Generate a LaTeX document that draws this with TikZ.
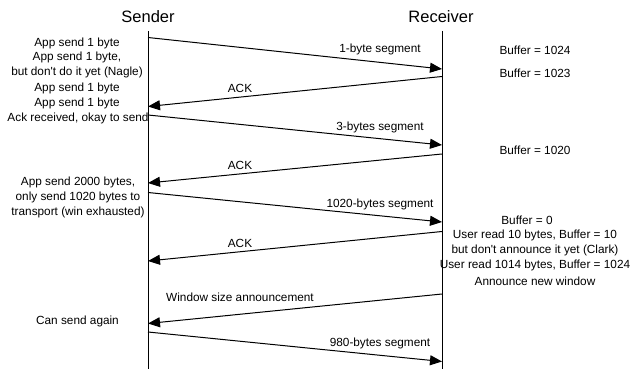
\documentclass[tikz,border=0pt]{standalone}
\usepackage{fontspec}
\setmainfont{Liberation Sans}
\usetikzlibrary{arrows.meta}
\begin{document}
\begin{tikzpicture}[x=1pt,y=-1pt,
  lbl/.style={font=\fontsize{11.8}{14}\selectfont, inner sep=0pt, align=center},
  ttl/.style={font=\fontsize{16.5}{19}\selectfont, inner sep=0pt},
  life/.style={line width=1pt},
  msg/.style={line width=1pt, -{Triangle[length=12pt,width=10pt]}}]
\useasboundingbox (0,0) rectangle (633,369);
% titles
\node[ttl] (sender) at (148,17) {Sender};
\node[ttl] (receiver) at (441,17) {Receiver};
% left notes
\node[lbl] (l1) at (77,43) {App send 1 byte};
\node[lbl] (l2) at (77,57.5) {App send 1 byte,};
\node[lbl] (l3) at (77,72.5) {but don\textquotesingle t do it yet (Nagle)};
\node[lbl] (l4) at (77,88) {App send 1 byte};
\node[lbl] (l5) at (77,103) {App send 1 byte};
\node[lbl] (l6) at (78,118) {Ack received, okay to send};
\node[lbl] (l7) at (78,182) {App send 2000 bytes,};
\node[lbl] (l8) at (78,197) {only send 1020 bytes to};
\node[lbl] (l9) at (78,212) {transport (win exhausted)};
\node[lbl] (l10) at (77.5,321) {Can send again};
% right notes
\node[lbl] (r1) at (535,50) {Buffer = 1024};
\node[lbl] (r2) at (535,73) {Buffer = 1023};
\node[lbl] (r3) at (535,150) {Buffer = 1020};
\node[lbl] (r4) at (527,220) {Buffer = 0};
\node[lbl] (r5) at (535,235) {User read 10 bytes, Buffer = 10};
\node[lbl] (r6) at (535,250) {but don\textquotesingle t announce it yet (Clark)};
\node[lbl] (r7) at (535,265.5) {User read 1014 bytes, Buffer = 1024};
\node[lbl] (r8) at (535,281.5) {Announce new window};
% lifelines
\coordinate (stop) at (148,31);
\coordinate (sbot) at (148,369);
\coordinate (rtop) at (442,31);
\coordinate (rbot) at (442,369);
\draw[life] (stop) -- (sbot);
\draw[life] (rtop) -- (rbot);
% message endpoints
\coordinate (a1) at (148,37.5);  \coordinate (b1) at (442,69);
\coordinate (b2) at (442,76.5);  \coordinate (a2) at (148,106.5);
\coordinate (a3) at (148,115);   \coordinate (b3) at (442,145);
\coordinate (b4) at (442,154);   \coordinate (a4) at (148,183);
\coordinate (a5) at (148,192.5); \coordinate (b5) at (442,222);
\coordinate (b6) at (442,231.5); \coordinate (a6) at (148,261);
\coordinate (b7) at (442,294);   \coordinate (a7) at (148,323.5);
\coordinate (a8) at (148,332);   \coordinate (b8) at (442,361.5);
\draw[msg] (a1) -- (b1);
\draw[msg] (b2) -- (a2);
\draw[msg] (a3) -- (b3);
\draw[msg] (b4) -- (a4);
\draw[msg] (a5) -- (b5);
\draw[msg] (b6) -- (a6);
\draw[msg] (b7) -- (a7);
\draw[msg] (a8) -- (b8);
% message labels
\node[lbl] (m1) at (380,49.5) {1-byte segment};
\node[lbl] (m2) at (240,88) {ACK};
\node[lbl] (m3) at (380,127) {3-bytes segment};
\node[lbl] (m4) at (240,165) {ACK};
\node[lbl] (m5) at (380,204) {1020-bytes segment};
\node[lbl] (m6) at (240,243) {ACK};
\node[lbl] (m7) at (240,297) {Window size announcement};
\node[lbl] (m8) at (380,343) {980-bytes segment};
\end{tikzpicture}
\end{document}
